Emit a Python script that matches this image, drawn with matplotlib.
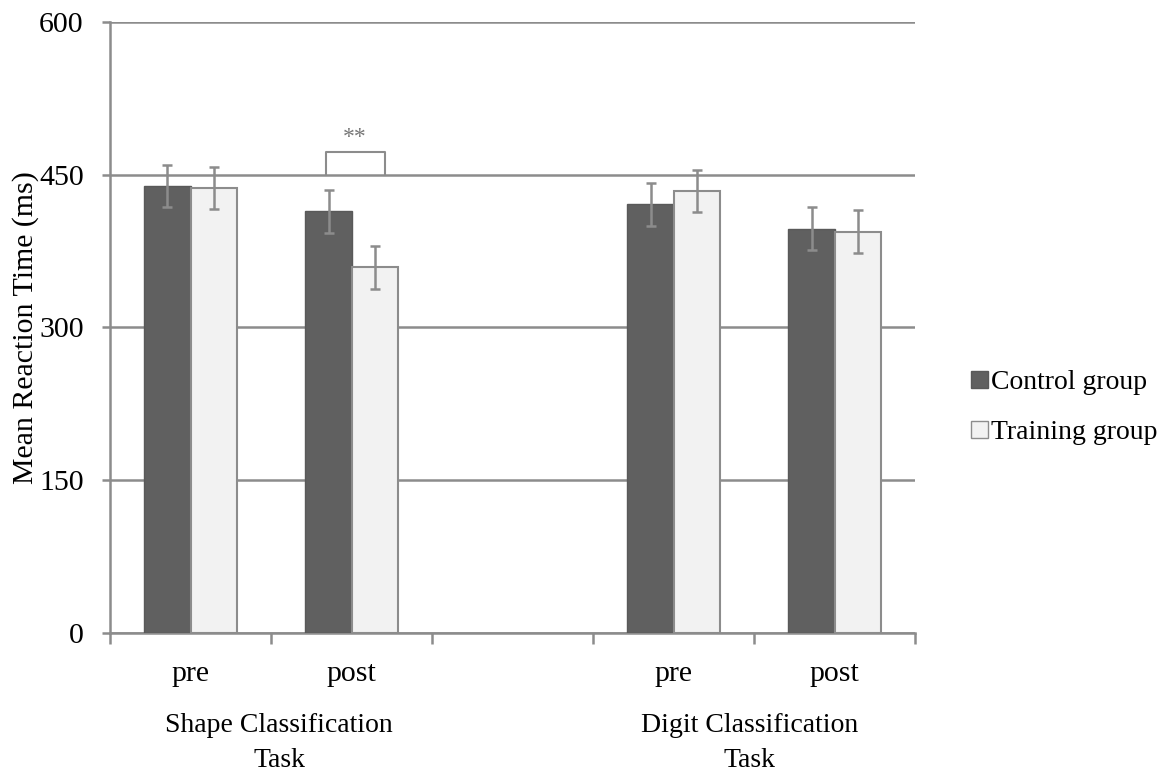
import numpy as np
import matplotlib.pyplot as plt
from matplotlib.patches import Patch

# data
phases = ['pre', 'post', '', 'pre', 'post']
tasks = ['Shape Classification\nTask', 'Digit Classification\nTask']
control = [439, 414, np.nan, 421, 397]
training = [437, 359, np.nan, 434, 394]
control_err = [21, 21, 0, 21, 21]
training_err = [21, 21, 0, 21, 21]

plt.rcParams['font.family'] = ['Liberation Serif', 'DejaVu Serif']

grid_c = '#8c8c8c'
fs = 21
fig = plt.figure(figsize=(11.63, 7.78), dpi=100)
ax = fig.add_axes([0.0946, 0.1864, 0.6922, 0.7853])

x = np.arange(len(phases))
w = 0.286
ax.bar(x - w / 2, control, w, color='#606060', edgecolor='#595959', linewidth=1, zorder=3)
ax.bar(x + w / 2, training, w, color='#f2f2f2', edgecolor=grid_c, linewidth=1.5, zorder=3)
ax.errorbar(x - w / 2, control, yerr=control_err, fmt='none', ecolor=grid_c,
            elinewidth=1.8, capsize=3.5, capthick=1.8, zorder=4)
ax.errorbar(x + w / 2, training, yerr=training_err, fmt='none', ecolor=grid_c,
            elinewidth=1.8, capsize=3.5, capthick=1.8, zorder=4)

# significance bracket over shape/post
ax.plot([1 - 0.16, 1 - 0.16, 1 + 0.21, 1 + 0.21], [450, 472, 472, 450],
        color=grid_c, lw=1.5, zorder=4)
ax.text(1.02, 476, '**', ha='center', va='bottom', fontsize=17, color='#777777')

ax.set_ylim(0, 600)
ax.set_xlim(-0.5, 4.5)
ax.set_yticks([0, 150, 300, 450, 600])
ax.yaxis.grid(True, color=grid_c, lw=1.8, zorder=0)
ax.set_axisbelow(True)
for s in ['top', 'right']:
    ax.spines[s].set_visible(False)
for s in ['left', 'bottom']:
    ax.spines[s].set_color(grid_c)
    ax.spines[s].set_linewidth(1.8)
ax.tick_params(axis='y', length=6, width=1.8, color=grid_c, labelsize=fs + 0.5, pad=13)

ax.set_xticks(x)
ax.set_xticklabels(phases, fontsize=fs + 0.5)
ax.set_xticks(np.arange(-0.5, 5, 1), minor=True)
ax.tick_params(axis='x', which='major', length=0, pad=20)
ax.tick_params(axis='x', which='minor', length=8, width=1.8, color=grid_c, direction='out')

ax.set_ylabel('Mean Reaction Time (ms)', fontsize=fs + 0.5, labelpad=0)

ax.text(0.55, -79, tasks[0], ha='center', va='top', fontsize=fs - 1, linespacing=1.5)
ax.text(3.47, -79, tasks[1], ha='center', va='top', fontsize=fs - 1, linespacing=1.5)

handles = [Patch(facecolor='#606060', edgecolor='#595959'),
           Patch(facecolor='#f2f2f2', edgecolor=grid_c)]
fig.legend(handles, ['Control group', 'Training group'], loc='center left',
           bbox_to_anchor=(0.835, 0.476), frameon=False, fontsize=fs - 1,
           handlelength=0.6, handleheight=0.6, handletextpad=0.12, labelspacing=0.9,
           borderaxespad=0, borderpad=0)

fig.savefig('out.png', dpi=100)
